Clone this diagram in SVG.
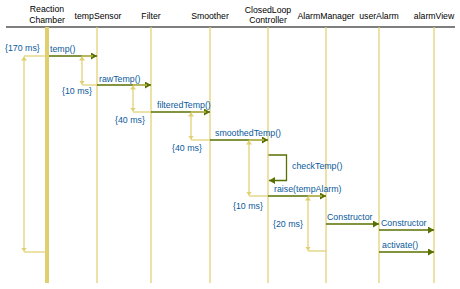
<svg xmlns="http://www.w3.org/2000/svg" width="460" height="289" viewBox="0 0 460 289">
<style>
.hdr{font-family:"Liberation Sans",Arial,sans-serif;font-size:8.7px;fill:#000;text-anchor:middle}
.lbl{font-family:"Liberation Sans",Arial,sans-serif;font-size:8.8px;fill:#0a5a9c}
.life{stroke:#e0cf6e;stroke-width:1.2;fill:none}
.msg{stroke:#587000;stroke-width:1.3;fill:none}
.con{stroke:#e0cf6e;stroke-width:1.2;fill:none}
</style>
<defs>
<marker id="ah" markerUnits="userSpaceOnUse" markerWidth="7" markerHeight="8" refX="6" refY="3.5" orient="auto">
<path d="M0,0 L6,3.5 L0,7 z" fill="#587000"/>
</marker>
<marker id="ch" markerUnits="userSpaceOnUse" markerWidth="7" markerHeight="7" refX="4" refY="3" orient="auto-start-reverse">
<path d="M0,0 L4,3 L0,6 z" fill="#e0cf6e"/>
</marker>
</defs>
<rect width="460" height="289" fill="#fff"/>
<line x1="6" y1="27" x2="455" y2="27" stroke="#000" stroke-width="1.2"/>

<g id="reactionChamber">
<text class="hdr" x="47" y="12">Reaction</text>
<text class="hdr" x="47" y="22.5">Chamber</text>
<rect x="45" y="27" width="4" height="256" fill="#e0cf6e"/>
</g>
<g id="tempSensor">
<text class="hdr" x="98" y="18.5">tempSensor</text>
<line class="life" x1="97" y1="27" x2="97" y2="283"/>
</g>
<g id="filter">
<text class="hdr" x="151" y="18.5">Filter</text>
<line class="life" x1="151" y1="27" x2="151" y2="283"/>
</g>
<g id="smoother">
<text class="hdr" x="210" y="18.5">Smoother</text>
<line class="life" x1="210" y1="27" x2="210" y2="283"/>
</g>
<g id="closedLoopController">
<text class="hdr" x="268" y="12.5">ClosedLoop</text>
<text class="hdr" x="268" y="22.5">Controller</text>
<line class="life" x1="268" y1="27" x2="268" y2="283"/>
</g>
<g id="alarmManager">
<text class="hdr" x="326" y="18.5">AlarmManager</text>
<line class="life" x1="326" y1="27" x2="326" y2="283"/>
</g>
<g id="userAlarm">
<text class="hdr" x="379" y="18.5">userAlarm</text>
<line class="life" x1="379" y1="27" x2="379" y2="283"/>
</g>
<g id="alarmView">
<text class="hdr" x="434" y="18.5">alarmView</text>
<line class="life" x1="434" y1="27" x2="434" y2="283"/>
</g>

<g id="connectors">
<line class="msg" x1="49" y1="56" x2="97" y2="56" marker-end="url(#ah)"/>
<text class="lbl" x="50" y="52">temp()</text>
<line class="msg" x1="97" y1="85" x2="151" y2="85" marker-end="url(#ah)"/>
<text class="lbl" x="99" y="81.5">rawTemp()</text>
<line class="msg" x1="151" y1="112" x2="210" y2="112" marker-end="url(#ah)"/>
<text class="lbl" x="157" y="108">filteredTemp()</text>
<line class="msg" x1="210" y1="140" x2="268" y2="140" marker-end="url(#ah)"/>
<text class="lbl" x="215" y="136">smoothedTemp()</text>
<polyline class="msg" points="268.5,155 286.5,155 286.5,180.5 269,180.5" marker-end="url(#ah)"/>
<text class="lbl" x="292" y="169">checkTemp()</text>
<line class="msg" x1="268" y1="196" x2="326" y2="196" marker-end="url(#ah)"/>
<text class="lbl" x="274" y="192">raise(tempAlarm)</text>
<line class="msg" x1="326" y1="224" x2="379" y2="224" marker-end="url(#ah)"/>
<text class="lbl" x="327" y="220">Constructor</text>
<line class="msg" x1="379" y1="230" x2="434" y2="230" marker-end="url(#ah)"/>
<text class="lbl" x="381" y="225.5">Constructor</text>
<line class="msg" x1="379" y1="252" x2="434" y2="252" marker-end="url(#ah)"/>
<text class="lbl" x="382" y="248">activate()</text>

<polyline class="con" points="45,56 24,56"/>
<polyline class="con" points="45,252 24,252"/>
<line class="con" x1="24" y1="56.5" x2="24" y2="251.5" marker-start="url(#ch)" marker-end="url(#ch)"/>
<text class="lbl" x="5" y="51">{170 ms}</text>

<polyline class="con" points="93,56 82,56"/>
<polyline class="con" points="97,85 82,85"/>
<line class="con" x1="82" y1="56.5" x2="82" y2="84.5" marker-start="url(#ch)" marker-end="url(#ch)"/>
<text class="lbl" x="62" y="94">{10 ms}</text>

<polyline class="con" points="147,85 133,85"/>
<polyline class="con" points="151,112 133,112"/>
<line class="con" x1="133" y1="85.5" x2="133" y2="111.5" marker-start="url(#ch)" marker-end="url(#ch)"/>
<text class="lbl" x="115" y="123">{40 ms}</text>

<polyline class="con" points="206,112 191,112"/>
<polyline class="con" points="210,140 191,140"/>
<line class="con" x1="191" y1="112.5" x2="191" y2="139.5" marker-start="url(#ch)" marker-end="url(#ch)"/>
<text class="lbl" x="172" y="151">{40 ms}</text>

<polyline class="con" points="264,140 249,140"/>
<polyline class="con" points="268,196 249,196"/>
<line class="con" x1="249" y1="140.5" x2="249" y2="195.5" marker-start="url(#ch)" marker-end="url(#ch)"/>
<text class="lbl" x="233" y="209">{10 ms}</text>

<polyline class="con" points="322,196 308,196"/>
<polyline class="con" points="326,251 308,251"/>
<line class="con" x1="308" y1="196.5" x2="308" y2="250.5" marker-start="url(#ch)" marker-end="url(#ch)"/>
<text class="lbl" x="273" y="227">{20 ms}</text>
</g>
</svg>
